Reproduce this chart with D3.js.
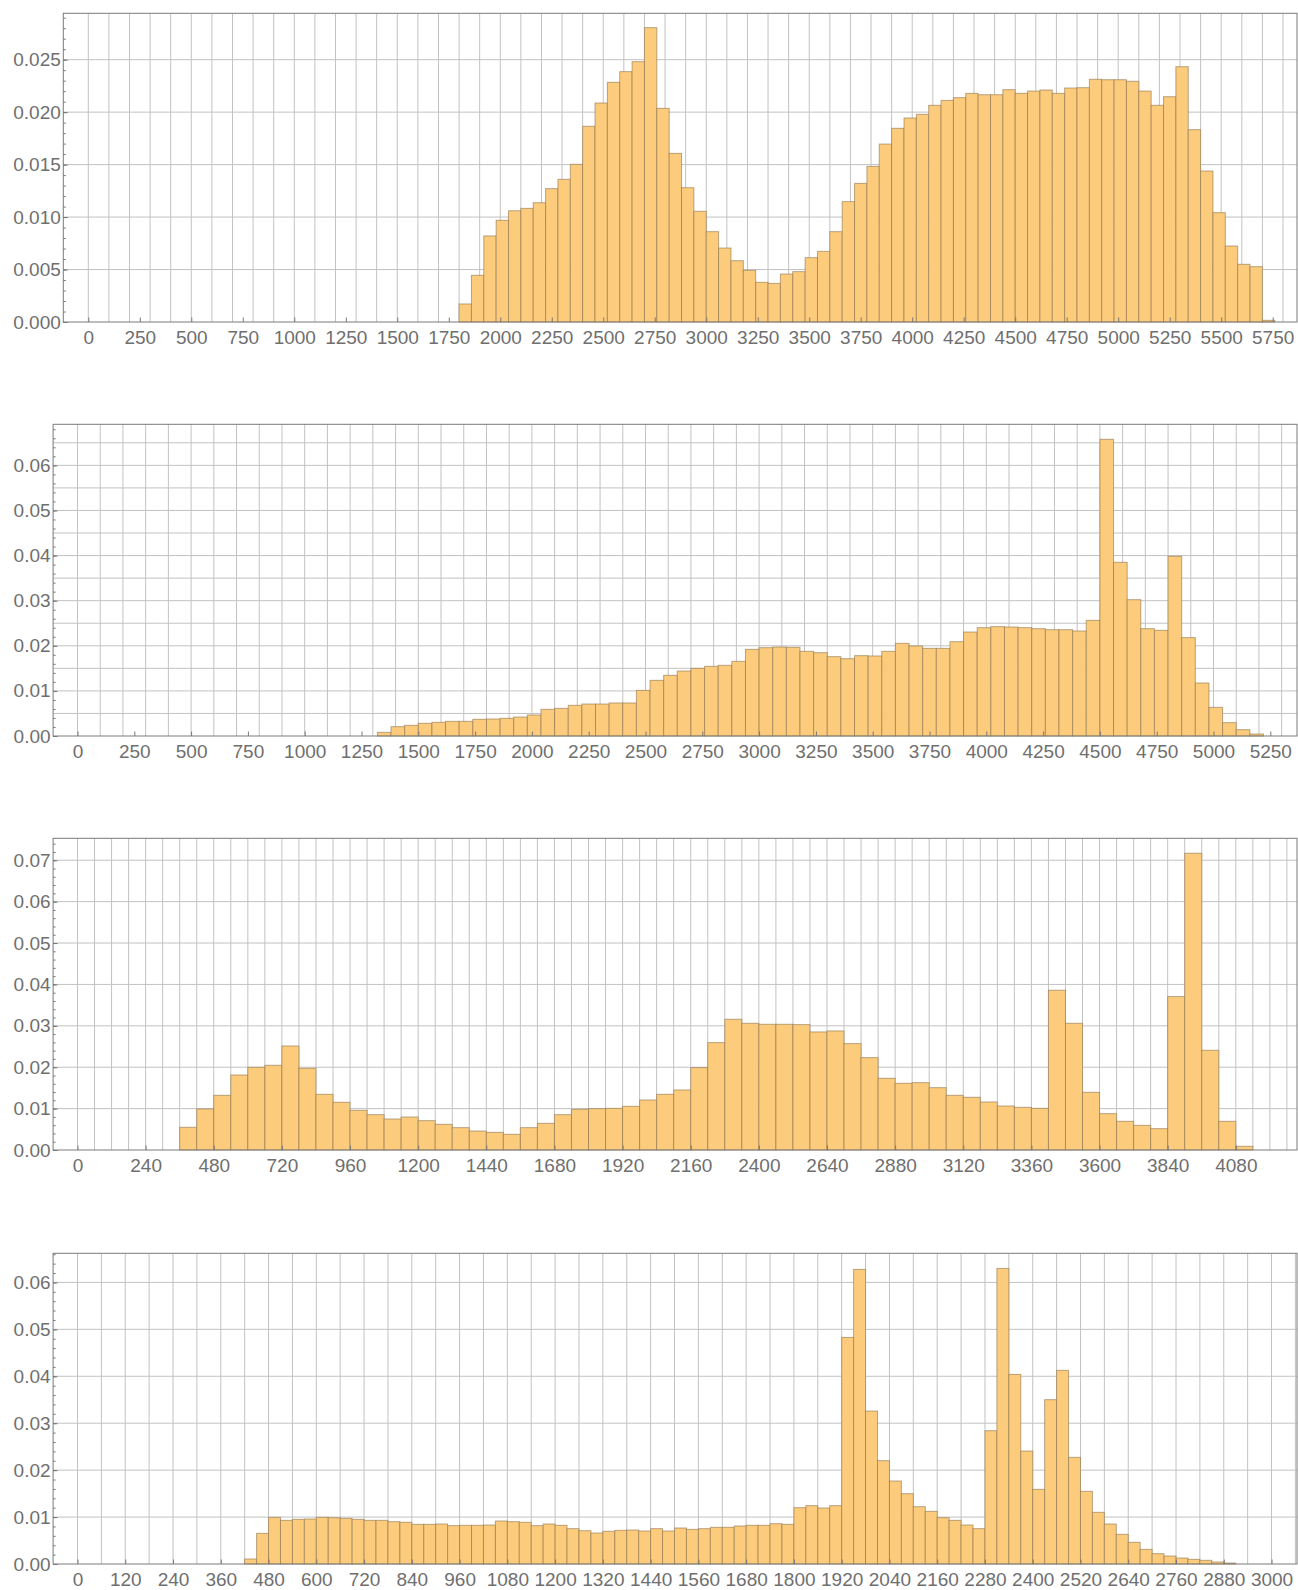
<!DOCTYPE html>
<html lang="en">
<head>
<meta charset="UTF-8">
<title>Histograms</title>
<script src="https://d3js.org/d3.v7.min.js"></script>
<style>
  body { margin: 0; background: #fff; }
  svg text { font-family: "Liberation Sans", Arial, sans-serif; font-size: 19px; fill: #6f6f6f; }
</style>
</head>
<body>
<svg id="chart" width="1298" height="1590"></svg>
<script>
// ---- panel 1: bins of 60 starting at 1800
const p1BinStart = 1800, p1BinWidth = 60;
const p1Values = [0.00172,0.00445,0.0082,0.00969,0.0106,0.01083,0.01137,0.01271,0.0136,0.01503,
  0.01865,0.02087,0.02284,0.02386,0.02481,0.02805,0.02036,0.01607,0.0128,0.01055,
  0.00861,0.00705,0.00584,0.00492,0.00378,0.00368,0.00457,0.0048,0.00613,0.00673,
  0.00861,0.01147,0.01321,0.01483,0.01696,0.01846,0.01944,0.01979,0.02065,0.02112,
  0.02138,0.02179,0.02166,0.02166,0.02214,0.02179,0.02201,0.02211,0.02179,0.0223,
  0.02233,0.02313,0.02309,0.02309,0.02294,0.02201,0.02065,0.02147,0.02433,0.01833,
  0.01439,0.01042,0.00724,0.0055,0.00527,0.00016];
const p1XTicks = [0,250,500,750,1000,1250,1500,1750,2000,2250,2500,2750,3000,3250,3500,3750,4000,4250,4500,4750,5000,5250,5500,5750];
const p1YTicks = [0,0.005,0.010,0.015,0.020,0.025];

// ---- panel 2: bins of 60 starting at 1320
const p2BinStart = 1320, p2BinWidth = 60;
const p2Values = [0.00081,0.00207,0.00236,0.00281,0.00303,0.00325,0.00325,0.0037,0.00377,0.00392,
  0.00421,0.00466,0.00591,0.00613,0.0068,0.00709,0.00709,0.00732,0.00732,0.01012,
  0.01234,0.01345,0.01441,0.015,0.01544,0.01567,0.01655,0.01921,0.01958,0.01973,
  0.01966,0.01877,0.01847,0.01759,0.01714,0.01781,0.01774,0.01877,0.02054,0.01995,
  0.01943,0.01943,0.02091,0.02305,0.02402,0.02424,0.02416,0.02402,0.02379,0.02357,
  0.02357,0.02328,0.02564,0.06577,0.0385,0.03022,0.02379,0.02342,0.03983,0.0218,
  0.01175,0.00635,0.00296,0.0014,0.00044];
const p2XTicks = [0,250,500,750,1000,1250,1500,1750,2000,2250,2500,2750,3000,3250,3500,3750,4000,4250,4500,4750,5000,5250];
const p2YTicks = [0,0.01,0.02,0.03,0.04,0.05,0.06];

// ---- panel 3: bins of 60 starting at 360
const p3BinStart = 360, p3BinWidth = 60;
const p3Values = [0.00548,0.00991,0.01321,0.01812,0.01998,0.02046,0.02513,0.01974,0.01345,0.01152,
  0.00959,0.00854,0.00749,0.00797,0.00709,0.0062,0.0054,0.00459,0.00427,0.00379,
  0.0054,0.00644,0.00854,0.00983,0.00999,0.01007,0.01055,0.01208,0.01345,0.0145,
  0.0199,0.02594,0.03158,0.03061,0.03037,0.03037,0.03029,0.02852,0.02876,0.0257,
  0.02231,0.01732,0.01611,0.01627,0.01506,0.01321,0.01273,0.0116,0.01063,0.01031,
  0.01007,0.03859,0.03061,0.01394,0.00878,0.00693,0.00596,0.00516,0.03706,0.07169,
  0.02409,0.00693,0.00089];
const p3XTicks = [0,240,480,720,960,1200,1440,1680,1920,2160,2400,2640,2880,3120,3360,3600,3840,4080];
const p3YTicks = [0,0.01,0.02,0.03,0.04,0.05,0.06,0.07];

// ---- panel 4: bins of 30 starting at 420
const p4BinStart = 420, p4BinWidth = 30;
const p4Values = [0.00107,0.00653,0.00994,0.0093,0.00951,0.00959,0.00994,0.00987,0.00973,0.00951,
  0.0093,0.0093,0.00902,0.00888,0.00845,0.00845,0.00852,0.00817,0.00824,0.00824,
  0.00831,0.00916,0.00902,0.00888,0.00817,0.00852,0.00824,0.00753,0.0071,0.0066,
  0.00696,0.00717,0.00724,0.00703,0.00753,0.00703,0.00767,0.00738,0.00753,0.00781,
  0.00781,0.0081,0.00824,0.00824,0.00859,0.00845,0.012,0.01243,0.01193,0.01243,
  0.04828,0.06277,0.03259,0.02201,0.01768,0.01498,0.01221,0.01122,0.00987,0.0093,
  0.00831,0.00753,0.0284,0.06298,0.0404,0.02407,0.01591,0.03501,0.04126,0.02272,
  0.01548,0.01101,0.00852,0.00632,0.00462,0.00312,0.0022,0.0017,0.00128,0.00099,
  0.00078,0.00043,0.00021];
const p4XTicks = [0,120,240,360,480,600,720,840,960,1080,1200,1320,1440,1560,1680,1800,1920,2040,2160,2280,2400,2520,2640,2760,2880,3000];
const p4YTicks = [0,0.01,0.02,0.03,0.04,0.05,0.06];

const panels = [
  { values: p1Values, start: p1BinStart, width: p1BinWidth, xTicks: p1XTicks, yTicks: p1YTicks,
    left: 63.3, top: 13.3, bottom: 322, xDomain: [-121.4, 5868], yMax: 0.02942,
    xGrid: 100, yGrid: 0.005, yMinor: 0.001, fmt: d3.format(".3f") },
  { values: p2Values, start: p2BinStart, width: p2BinWidth, xTicks: p2XTicks, yTicks: p2YTicks,
    left: 53.1, top: 424.3, bottom: 736, xDomain: [-107.4, 5367.5], yMax: 0.0691,
    xGrid: 100, yGrid: 0.005, yMinor: 0.002, fmt: d3.format(".2f") },
  { values: p3Values, start: p3BinStart, width: p3BinWidth, xTicks: p3XTicks, yTicks: p3YTicks,
    left: 53.1, top: 838.3, bottom: 1150, xDomain: [-85.9, 4295.5], yMax: 0.0753,
    xGrid: 60, yGrid: 0.01, yMinor: 0.002, fmt: d3.format(".2f") },
  { values: p4Values, start: p4BinStart, width: p4BinWidth, xTicks: p4XTicks, yTicks: p4YTicks,
    left: 53.1, top: 1253.3, bottom: 1564, xDomain: [-61.3, 3064], yMax: 0.0662,
    xGrid: 60, yGrid: 0.01, yMinor: 0.002, fmt: d3.format(".2f") }
];
const plotRight = 1297;

const svg = d3.select("#chart");

panels.forEach(p => {
  const x = d3.scaleLinear().domain(p.xDomain).range([p.left, plotRight]);
  const y = d3.scaleLinear().domain([0, p.yMax]).range([p.bottom, p.top]);
  const g = svg.append("g");

  // grid lines
  const xGridVals = d3.range(0, p.xDomain[1], p.xGrid);
  g.append("g").selectAll("line").data(xGridVals).join("line")
    .attr("x1", d => x(d)).attr("x2", d => x(d))
    .attr("y1", p.top).attr("y2", p.bottom)
    .attr("stroke", "#c2c2c2").attr("stroke-width", 1);
  const yGridVals = d3.range(p.yGrid, p.yMax, p.yGrid);
  g.append("g").selectAll("line").data(yGridVals).join("line")
    .attr("x1", p.left).attr("x2", plotRight)
    .attr("y1", d => y(d)).attr("y2", d => y(d))
    .attr("stroke", "#c2c2c2").attr("stroke-width", 1);

  // bars
  g.append("g").selectAll("rect").data(p.values).join("rect")
    .attr("x", (d, i) => x(p.start + i * p.width))
    .attr("width", (d, i) => x(p.start + (i + 1) * p.width) - x(p.start + i * p.width))
    .attr("y", d => y(d))
    .attr("height", d => y(0) - y(d))
    .attr("fill", "#fdcb7c")
    .attr("stroke", "rgba(140,115,75,0.6)")
    .attr("stroke-width", 1);

  // minor y ticks
  const yMinorAxis = d3.axisLeft(y).tickValues(d3.range(0, p.yMax, p.yMinor)).tickSize(-2.5).tickFormat("");
  g.append("g").attr("transform", `translate(${p.left},0)`).call(yMinorAxis)
    .call(a => a.select(".domain").remove())
    .selectAll("line").attr("stroke", "#777");

  // y axis
  const yAxis = d3.axisLeft(y).tickValues(p.yTicks).tickSize(-4.5).tickPadding(2.5).tickFormat(p.fmt);
  g.append("g").attr("transform", `translate(${p.left},0)`).call(yAxis)
    .call(a => a.select(".domain").remove())
    .call(a => a.selectAll("line").attr("stroke", "#777"))
    .call(a => a.selectAll("text").attr("fill", null));

  // x axis
  const xAxis = d3.axisBottom(x).tickValues(p.xTicks).tickSize(-4.5).tickPadding(9).tickFormat(d3.format("d"));
  g.append("g").attr("transform", `translate(0,${p.bottom})`).call(xAxis)
    .call(a => a.select(".domain").remove())
    .call(a => a.selectAll("line").attr("stroke", "#777"))
    .call(a => a.selectAll("text").attr("fill", null));

  // frame
  g.append("rect")
    .attr("x", p.left).attr("y", p.top)
    .attr("width", plotRight - p.left).attr("height", p.bottom - p.top)
    .attr("fill", "none").attr("stroke", "#7a7a7a").attr("stroke-width", 1);
});

// d3 axis sets font attrs on the group; clear them so the css applies
svg.selectAll("g").attr("font-size", null).attr("font-family", null);
</script>
</body>
</html>
